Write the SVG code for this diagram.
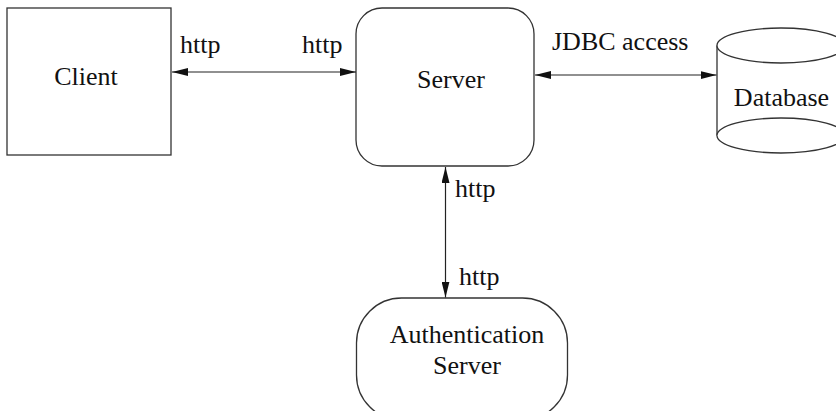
<svg xmlns="http://www.w3.org/2000/svg" width="836" height="411" viewBox="0 0 836 411">
<defs>
<style>
.shape{fill:#fff;stroke:#333;stroke-width:1.3}
.conn{stroke:#222;stroke-width:1.2;fill:none}
text{font-family:"Liberation Serif","Times New Roman",serif;font-size:26px;fill:#111}
.c{text-anchor:middle}
</style>
<marker id="ah" viewBox="0 0 16 8" refX="16" refY="4" markerWidth="16" markerHeight="8" markerUnits="userSpaceOnUse" orient="auto-start-reverse">
<path d="M0,0 L16,4 L0,8 Z" fill="#111"/>
</marker>
</defs>
<rect width="836" height="411" fill="#fff"/>
<g id="client">
<rect class="shape" x="7" y="8" width="164" height="147"/>
<text class="c" x="86" y="85">Client</text>
</g>
<g id="server">
<rect class="shape" x="356" y="8" width="178" height="158" rx="26" ry="26"/>
<text class="c" x="451" y="88">Server</text>
</g>
<g id="database">
<path class="shape" d="M717,45.5 L717,135.5 A64,17.5 0 0 0 845,135.5 L845,45.5"/>
<ellipse class="shape" cx="781" cy="45.5" rx="64" ry="17.5"/>
<path class="shape" d="M717,135.5 A64,17.5 0 0 1 845,135.5" fill="none"/>
<text class="c" x="781.5" y="106">Database</text>
</g>
<g id="auth">
<rect class="shape" x="356.5" y="298" width="211" height="122" rx="45" ry="45"/>
<text class="c" x="467" y="343">Authentication</text>
<text class="c" x="467" y="374">Server</text>
</g>
<g id="connectors">
<line class="conn" x1="172" y1="72" x2="356" y2="72" marker-start="url(#ah)" marker-end="url(#ah)"/>
<line class="conn" x1="535" y1="75" x2="716.5" y2="75" marker-start="url(#ah)" marker-end="url(#ah)"/>
<line class="conn" x1="445.5" y1="167" x2="445.5" y2="297.5" marker-start="url(#ah)" marker-end="url(#ah)"/>
<text x="180" y="53">http</text>
<text x="302" y="53">http</text>
<text x="552" y="50">JDBC access</text>
<text x="455" y="197">http</text>
<text x="459" y="285">http</text>
</g>
</svg>
